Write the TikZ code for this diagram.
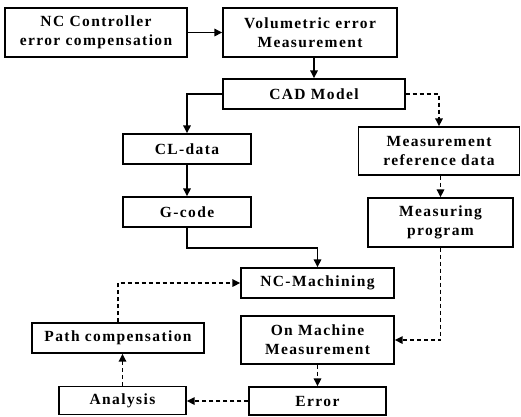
\documentclass[tikz,border=0pt]{standalone}
\usepackage{fontspec}
\setmainfont{Liberation Serif}[LetterSpace=9]
\usetikzlibrary{arrows.meta}
\tikzset{
  box/.style={draw, line width=1.4pt, inner sep=0pt, align=center,
    font=\fontsize{15.5}{19}\selectfont\bfseries},
  arr/.style={line width=1.6pt, -{Triangle[length=8pt,width=7.5pt]}},
  darr/.style={arr, dash pattern=on 4pt off 3pt},
}
\begin{document}
\begin{tikzpicture}[x=1pt,y=-1pt]
\useasboundingbox (0,0) rectangle (521,416);
\node[box, minimum width=182pt, minimum height=49pt] (nc) at (96,32.5) {NC Controller\\error compensation};
\node[box, minimum width=174pt, minimum height=49pt] (vol) at (310,32.5) {Volumetric error\\Measurement};
\node[box, minimum width=182pt, minimum height=30pt] (cad) at (314,94) {CAD Model};
\node[box, minimum width=128pt, minimum height=30pt] (cl) at (187,149) {CL-data};
\node[box, minimum width=128pt, minimum height=30pt] (gc) at (187,212) {G-code};
\node[box, minimum width=161pt, minimum height=48pt] (mref) at (439,151) {Measurement\\reference data};
\node[box, minimum width=145pt, minimum height=49pt] (mprog) at (440.5,222.5) {Measuring\\program};
\node[box, minimum width=153pt, minimum height=30pt] (ncm) at (317.5,283) {NC-Machining};
\node[box, minimum width=153pt, minimum height=48pt] (omm) at (317.5,340) {On Machine\\Measurement};
\node[box, minimum width=137pt, minimum height=28pt] (err) at (317.5,401) {Error};
\node[box, minimum width=127pt, minimum height=28pt] (ana) at (122.5,400.5) {Analysis};
\node[box, minimum width=172pt, minimum height=30pt] (pc) at (118,338) {Path compensation};

\draw[arr] (nc.east) -- (vol.west);
\draw[arr] (cad.north |- vol.south) -- (cad.north);
\draw[arr] (cad.west) -| (cl.north);
\draw[arr] (cl) -- (gc);
\draw[arr] (gc.south) -- ++(0,20) -| (ncm.north);
\draw[darr] (cad.east) -| (mref.north);
\draw[darr] (mprog.north |- mref.south) -- (mprog.north);
\draw[darr] (mprog.south) |- (omm.east);
\draw[darr] (omm) -- (err);
\draw[darr] (err.west) -- (err.west -| ana.east);
\draw[darr] (ana.north) -- (ana.north |- pc.south);
\draw[darr] (pc.north) |- (ncm.west);
\end{tikzpicture}
\end{document}
